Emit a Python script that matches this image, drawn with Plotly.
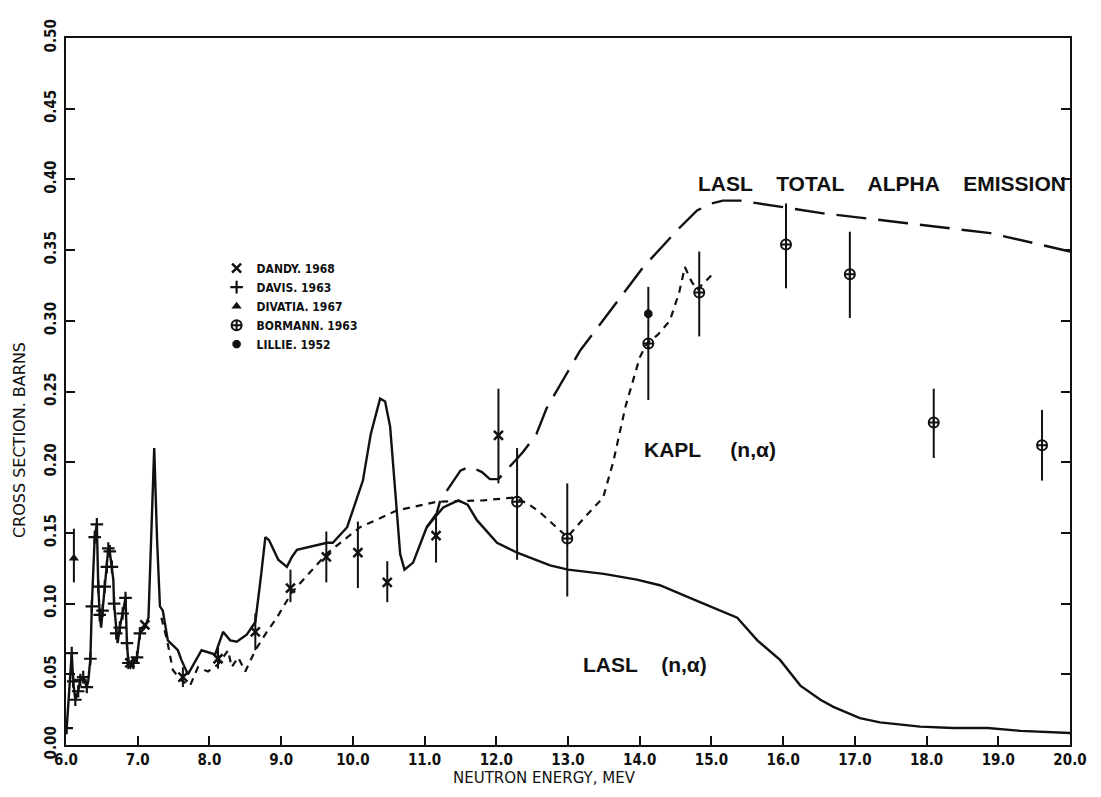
import plotly.graph_objects as go

# ---- LASL (n,alpha) evaluation (solid) ----
lasl_e = [6.01, 6.08, 6.10, 6.13, 6.17, 6.20, 6.24, 6.29, 6.31, 6.34, 6.36, 6.40, 6.43, 6.45,
          6.47, 6.49, 6.51, 6.54, 6.57, 6.59, 6.61, 6.64, 6.66, 6.67, 6.70, 6.72, 6.75, 6.79,
          6.83, 6.85, 6.87, 6.90, 6.94, 6.99, 7.03, 7.10, 7.15, 7.23, 7.27, 7.31, 7.35, 7.42,
          7.56, 7.61, 7.70, 7.89, 8.08, 8.19, 8.29, 8.38, 8.52, 8.64, 8.72, 8.78, 8.83, 8.96,
          9.08, 9.15, 9.22, 9.45, 9.64, 9.72, 9.92, 10.14, 10.25, 10.38, 10.45, 10.52, 10.59,
          10.66, 10.72, 10.84, 11.03, 11.26, 11.47, 11.60, 11.73, 12.01, 12.29, 12.75, 13.0,
          13.5, 13.96, 14.28, 14.84, 15.36, 15.64, 15.96, 16.24, 16.52, 16.70, 17.07, 17.35,
          17.91, 18.37, 18.85, 19.31, 20.0]
lasl_s = [0.012, 0.065, 0.045, 0.032, 0.038, 0.046, 0.048, 0.041, 0.045, 0.061, 0.098, 0.147,
          0.156, 0.112, 0.092, 0.083, 0.095, 0.112, 0.126, 0.139, 0.137, 0.126, 0.117, 0.100,
          0.079, 0.072, 0.083, 0.093, 0.104, 0.072, 0.058, 0.055, 0.058, 0.062, 0.079, 0.083,
          0.090, 0.210, 0.145, 0.098, 0.095, 0.074, 0.067, 0.060, 0.050, 0.067, 0.064, 0.080,
          0.074, 0.073, 0.078, 0.087, 0.120, 0.147, 0.145, 0.131, 0.126, 0.133, 0.138, 0.141,
          0.143, 0.143, 0.154, 0.187, 0.220, 0.245, 0.243, 0.225, 0.178, 0.135, 0.124, 0.129,
          0.154, 0.168, 0.173, 0.170, 0.159, 0.143, 0.136, 0.127, 0.124, 0.121, 0.117, 0.113,
          0.101, 0.090, 0.074, 0.060, 0.042, 0.032, 0.027, 0.019, 0.016, 0.013, 0.012, 0.012,
          0.010, 0.0085]

# ---- KAPL (n,alpha) evaluation (short dashes) ----
kapl_e = [7.33, 7.41, 7.49, 7.60, 7.73, 7.84, 7.98, 8.12, 8.26, 8.31, 8.40, 8.50, 8.64, 8.80,
          8.94, 9.15, 9.40, 9.65, 10.10, 10.62, 11.17, 11.82, 12.24, 12.43, 12.60, 12.75, 12.99,
          13.25, 13.49, 13.63, 13.80, 14.00, 14.10, 14.25, 14.42, 14.55, 14.63, 14.72, 14.80,
          14.92, 15.05]
kapl_s = [0.090, 0.074, 0.053, 0.046, 0.042, 0.055, 0.052, 0.057, 0.067, 0.055, 0.062, 0.052,
          0.067, 0.080, 0.090, 0.108, 0.122, 0.136, 0.154, 0.166, 0.172, 0.173, 0.175, 0.171,
          0.165, 0.158, 0.147, 0.162, 0.175, 0.200, 0.239, 0.274, 0.284, 0.290, 0.300, 0.320,
          0.338, 0.328, 0.322, 0.328, 0.335]

# ---- LASL total alpha emission (long dashes) ----
ta_e = [11.03, 11.17, 11.22, 11.40, 11.50, 11.63, 11.80, 11.91, 12.03, 12.10, 12.37, 12.56,
        12.70, 13.17, 13.63, 14.05, 14.56, 14.80, 15.00, 15.16, 15.40, 15.92, 16.56, 17.73,
        18.89, 19.49, 20.0]
ta_s = [0.154, 0.164, 0.173, 0.187, 0.194, 0.197, 0.193, 0.188, 0.188, 0.192, 0.207, 0.220,
        0.238, 0.279, 0.310, 0.338, 0.366, 0.378, 0.383, 0.385, 0.385, 0.381, 0.376, 0.369,
        0.362, 0.355, 0.349]

# ---- measurements ----
dandy_e = [6.89, 7.10, 7.63, 8.12, 8.64, 9.13, 9.63, 10.07, 10.48, 11.16, 12.03]
dandy_s = [0.058, 0.085, 0.048, 0.061, 0.080, 0.111, 0.133, 0.136, 0.115, 0.148, 0.219]
dandy_hi = [0.0, 0.0, 0.007, 0.008, 0.013, 0.013, 0.018, 0.022, 0.015, 0.013, 0.033]
dandy_lo = [0.0, 0.0, 0.007, 0.007, 0.013, 0.010, 0.018, 0.025, 0.014, 0.019, 0.034]

davis_e = [6.01, 6.08, 6.10, 6.13, 6.17, 6.20, 6.24, 6.29, 6.34, 6.36, 6.40, 6.43, 6.45,
           6.47, 6.51, 6.54, 6.57, 6.59, 6.61, 6.64, 6.67, 6.70, 6.75, 6.79, 6.83, 6.85,
           6.87, 6.94, 6.99, 7.03]
davis_s = [0.012, 0.065, 0.045, 0.032, 0.038, 0.046, 0.048, 0.041, 0.061, 0.098, 0.147,
           0.156, 0.112, 0.092, 0.095, 0.112, 0.126, 0.139, 0.137, 0.126, 0.100, 0.079,
           0.083, 0.093, 0.104, 0.072, 0.058, 0.058, 0.062, 0.079]

divatia_e = [6.11]
divatia_s = [0.132]
divatia_hi = [0.021]
divatia_lo = [0.017]

bormann_e = [12.29, 12.99, 14.12, 14.83, 16.04, 16.93, 18.10, 19.61]
bormann_s = [0.172, 0.146, 0.284, 0.320, 0.354, 0.333, 0.228, 0.212]
bormann_hi = [0.038, 0.039, 0.040, 0.029, 0.029, 0.030, 0.024, 0.025]
bormann_lo = [0.041, 0.041, 0.040, 0.031, 0.031, 0.031, 0.025, 0.025]

lillie_e = [14.12]
lillie_s = [0.305]

x_ticks = [6, 7, 8, 9, 10, 11, 12, 13, 14, 15, 16, 17, 18, 19, 20]
y_ticks = [0.00, 0.05, 0.10, 0.15, 0.20, 0.25, 0.30, 0.35, 0.40, 0.45, 0.50]

INK = "#111111"
PLOT_FONT = "DejaVu Sans Condensed, Liberation Sans Narrow, Arial Narrow, sans-serif"
TITLE_FONT = "DejaVu Sans, Verdana, sans-serif"
LABEL_FONT = "Liberation Sans, Arial, Helvetica, sans-serif"
SP = "\u00a0"

fig = go.Figure()

fig.add_trace(go.Scatter(x=lasl_e, y=lasl_s, mode="lines", showlegend=False,
                         line=dict(color=INK, width=2.4)))
fig.add_trace(go.Scatter(x=kapl_e, y=kapl_s, mode="lines", showlegend=False,
                         line=dict(color=INK, width=2.2, dash="7px,6px")))
fig.add_trace(go.Scatter(x=ta_e, y=ta_s, mode="lines", showlegend=False,
                         line=dict(color=INK, width=2.4, dash="30px,12px")))

err_style = dict(type="data", symmetric=False, color=INK, thickness=2, width=0)

fig.add_trace(go.Scatter(
    x=dandy_e, y=dandy_s, mode="markers", name="DANDY. 1968",
    marker=dict(symbol="x-thin-open", size=9, color=INK, line=dict(color=INK, width=2.5)),
    error_y=dict(array=dandy_hi, arrayminus=dandy_lo, **err_style)))
fig.add_trace(go.Scatter(
    x=davis_e, y=davis_s, mode="markers", name="DAVIS. 1963",
    marker=dict(symbol="cross-thin-open", size=9, color=INK, line=dict(color=INK, width=2.2))))
fig.add_trace(go.Scatter(
    x=divatia_e, y=divatia_s, mode="markers", name="DIVATIA. 1967",
    marker=dict(symbol="triangle-up", size=9, color=INK),
    error_y=dict(array=divatia_hi, arrayminus=divatia_lo, **err_style)))
fig.add_trace(go.Scatter(
    x=bormann_e, y=bormann_s, mode="markers", name="BORMANN. 1963",
    marker=dict(symbol="circle-cross-open", size=10, color=INK, line=dict(color=INK, width=2)),
    error_y=dict(array=bormann_hi, arrayminus=bormann_lo, **err_style)))
fig.add_trace(go.Scatter(
    x=lillie_e, y=lillie_s, mode="markers", name="LILLIE. 1952",
    marker=dict(symbol="octagon", size=9, color=INK)))

# curve labels
fig.add_annotation(x=17.38, y=0.397,
                   text="<b>LASL" + SP * 4 + "TOTAL" + SP * 4 + "ALPHA" + SP * 4 + "EMISSION</b>",
                   showarrow=False, font=dict(family=LABEL_FONT, size=21, color=INK))
fig.add_annotation(x=14.98, y=0.209, text="<b>KAPL" + SP * 5 + "(n,α)</b>",
                   showarrow=False, font=dict(family=LABEL_FONT, size=21, color=INK))
fig.add_annotation(x=14.08, y=0.057, text="<b>LASL" + SP * 4 + "(n,α)</b>",
                   showarrow=False, font=dict(family=LABEL_FONT, size=21, color=INK))

# axis titles
fig.add_annotation(xref="paper", yref="paper", x=0.477, y=-0.046,
                   xanchor="center", yanchor="middle",
                   text="NEUTRON ENERGY, MEV", showarrow=False,
                   font=dict(family=TITLE_FONT, size=15, color=INK))
fig.add_annotation(xref="paper", yref="paper", x=-0.047, y=0.431, textangle=-90,
                   xanchor="center", yanchor="middle",
                   text="CROSS SECTION. BARNS", showarrow=False,
                   font=dict(family=TITLE_FONT, size=16, color=INK))

axis_common = dict(showgrid=False, zeroline=False, showline=True, linecolor=INK,
                   linewidth=2, ticks="inside", ticklen=9, tickwidth=1.5, tickcolor=INK,
                   tickfont=dict(family=PLOT_FONT, size=15, color=INK, weight="bold"))

fig.update_xaxes(range=[6, 20], tickvals=x_ticks,
                 ticktext=[f"{v:.1f}" for v in x_ticks], mirror=True,
                 ticklabelstandoff=0, **axis_common)
fig.update_yaxes(range=[0, 0.5], tickvals=y_ticks,
                 ticktext=[f"{v:.2f}" for v in y_ticks], mirror="ticks",
                 tickangle=-90, ticklabelstandoff=2, **axis_common)

fig.update_layout(
    width=1101, height=797,
    margin=dict(l=66, r=31, t=38, b=52),
    paper_bgcolor="white", plot_bgcolor="white",
    legend=dict(x=0.15, y=0.695, xanchor="left", yanchor="top",
                bgcolor="rgba(0,0,0,0)", itemwidth=30,
                font=dict(family=PLOT_FONT, size=12, color=INK, weight="bold"),
                tracegroupgap=0),
)

fig.write_html("out.html")
